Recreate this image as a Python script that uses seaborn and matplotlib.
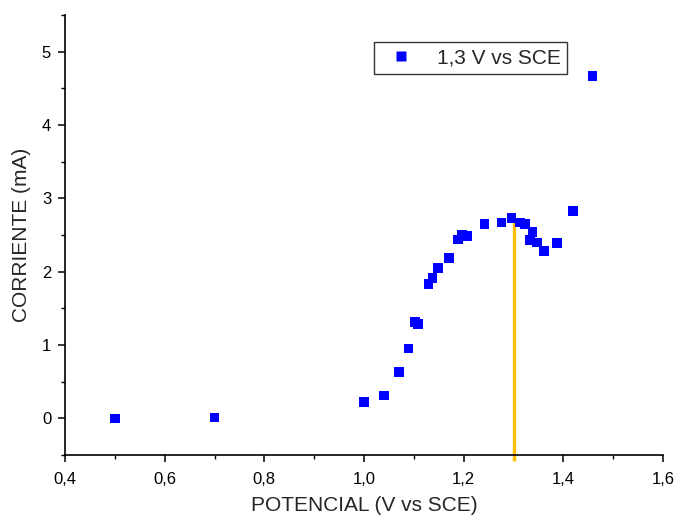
import matplotlib
matplotlib.use("Agg")
import matplotlib.pyplot as plt
from matplotlib.ticker import MultipleLocator, FuncFormatter
import numpy as np
import pandas as pd
import seaborn as sns

# Polarization data: potential (V vs SCE) and current (mA)
potencial = [0.50, 0.70, 1.00, 1.04, 1.07, 1.089, 1.102, 1.108, 1.129, 1.137,
             1.148, 1.171, 1.188, 1.196, 1.206, 1.242, 1.276, 1.296, 1.313,
             1.323, 1.338, 1.333, 1.347, 1.361, 1.387, 1.419, 1.458]
corriente = [0.00, 0.01, 0.22, 0.31, 0.63, 0.95, 1.31, 1.29, 1.83, 1.91,
             2.05, 2.19, 2.44, 2.50, 2.49, 2.65, 2.67, 2.73, 2.67,
             2.65, 2.54, 2.43, 2.40, 2.28, 2.39, 2.83, 4.67]
serie = "1,3 V vs SCE"

# Applied potential marker
v_aplicado = 1.3
linea_y = [-0.58, 2.70]

df = pd.DataFrame({"POTENCIAL": potencial, "CORRIENTE": corriente, "serie": serie})

sns.set_style("ticks")
plt.rcParams["font.family"] = ["Liberation Sans", "DejaVu Sans"]

fig = plt.figure(figsize=(6.78, 5.19), dpi=100)
ax = fig.add_axes([0.0959, 0.1233, 0.978 - 0.0959, 0.971 - 0.1233])

ax.plot([v_aplicado, v_aplicado], linea_y, color="#FFC000", lw=2.4,
        clip_on=False, zorder=2, solid_capstyle="butt")

sns.scatterplot(data=df, x="POTENCIAL", y="CORRIENTE", hue="serie",
                palette=["#0000FF"], marker="s", s=48, edgecolor="none",
                ax=ax, zorder=3)

ax.set_xlim(0.4, 1.6)
ax.set_ylim(-0.5, 5.5)
ax.xaxis.set_major_locator(MultipleLocator(0.2))
ax.xaxis.set_minor_locator(MultipleLocator(0.1))
ax.yaxis.set_major_locator(MultipleLocator(1))
ax.yaxis.set_minor_locator(MultipleLocator(0.5))
ax.xaxis.set_major_formatter(FuncFormatter(lambda v, p: f"{v:.1f}".replace(".", ",")))
ax.yaxis.set_major_formatter(FuncFormatter(lambda v, p: f"{v:.0f}"))

for side in ("top", "right"):
    ax.spines[side].set_visible(False)
for side in ("left", "bottom"):
    ax.spines[side].set_linewidth(1.2)
    ax.spines[side].set_color("black")

ax.tick_params(which="major", direction="out", length=5, width=1.1,
               labelsize=12, colors="black", pad=5)
ax.tick_params(axis="x", which="major", pad=7)
ax.tick_params(which="minor", direction="out", length=3, width=1.0, colors="black")

ax.set_xlabel("POTENCIAL (V vs SCE)", fontsize=15, labelpad=7)
ax.set_ylabel("CORRIENTE (mA)", fontsize=15, labelpad=8)

leg = ax.legend(loc="upper left", bbox_to_anchor=(0.517, 0.938), frameon=True,
                fancybox=False, fontsize=15, markerscale=1.0,
                handletextpad=0.7, borderpad=0.3, handlelength=2.0,
                borderaxespad=0)
leg.get_frame().set_edgecolor("black")
leg.get_frame().set_linewidth(1.0)

fig.savefig("out.png", dpi=100)
